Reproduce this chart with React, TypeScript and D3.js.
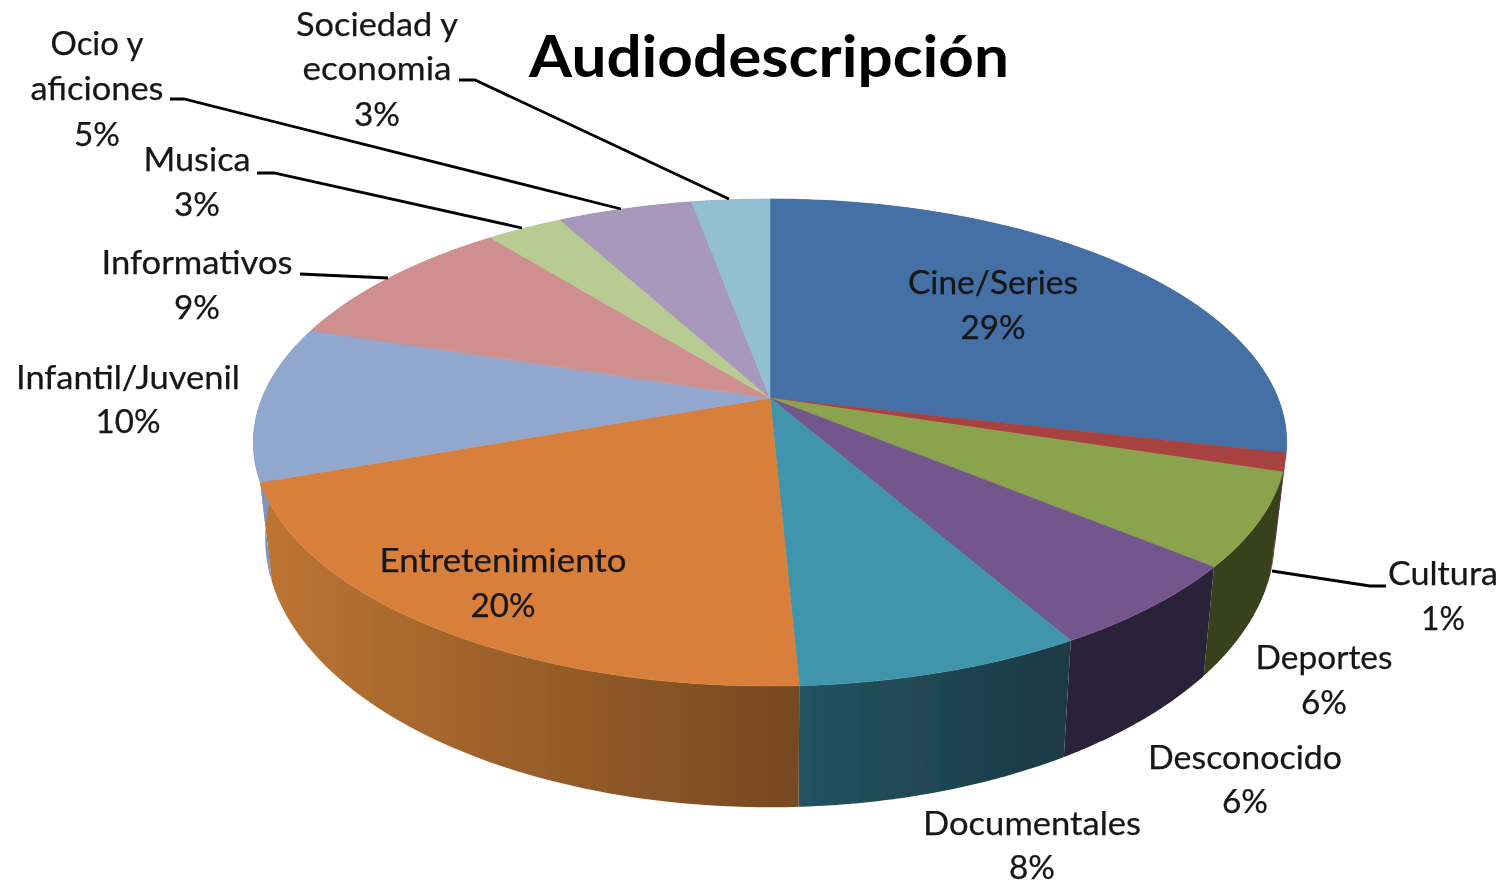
import React from "react";
import * as d3 from "d3";

const categories = ["Cine/Series","Cultura","Deportes","Desconocido","Documentales","Entretenimiento","Infantil/Juvenil","Informativos","Musica","Ocio y aficiones","Sociedad y economia"];
const shares = [28.6,1.2,6.15,5.75,7.55,20.3,10.35,9.27,2.88,5.03,2.92];
const percentLabels = ["29%","1%","6%","6%","8%","20%","10%","9%","3%","5%","3%"];
const topColors = ["#4470a5","#a84340","#89a44e","#73568c","#3f95ad","#d8803a","#92a7ce","#cf8f8e","#b8cb92","#a797bb","#92bfd2"];
const wallFrom = ["#35577f","#7d312f","#38411c","#2c2338","#255261","#bc7533","#7e94bd","#a06e6d","#8e9d70","#817491","#70939f"];
const wallTo = ["#35577f","#7d312f","#38411c","#2c2338","#1a3a44","#764820","#7e94bd","#a06e6d","#8e9d70","#817491","#70939f"];

type Lbl = { lines: string[]; x: number; y: number[]; w: number[] };
const labelLayout: Lbl[] = [
  { lines: ["Cine/Series"], x: 993, y: [294,339], w: [170,65] },
  { lines: ["Cultura"], x: 1443, y: [585,630], w: [110,44] },
  { lines: ["Deportes"], x: 1324, y: [669,714], w: [137,46] },
  { lines: ["Desconocido"], x: 1245, y: [769,813], w: [194,46] },
  { lines: ["Documentales"], x: 1032, y: [835,879], w: [218,46] },
  { lines: ["Entretenimiento"], x: 503, y: [572,617], w: [247,65] },
  { lines: ["Infantil/Juvenil"], x: 128, y: [389,433], w: [224,65] },
  { lines: ["Informativos"], x: 197, y: [274,319], w: [191,46] },
  { lines: ["Musica"], x: 197, y: [171,216], w: [107,46] },
  { lines: ["Ocio y","aficiones"], x: 97, y: [55,100,146], w: [93,133,46] },
  { lines: ["Sociedad y","economia"], x: 377, y: [36,80,126], w: [162,149,46] },
];
const leaders: [number, number][][] = [
  [[459,80],[475,80],[729,199]],
  [[170,99],[184,99],[621,209]],
  [[257,173],[274,173],[522,228]],
  [[300,274],[388,278]],
  [[1272,571],[1370,586],[1386,586]],
];

const W = 1507, H = 883;
const cx = 770, cy = 398;
const k = -0.1828, a = 508, b = 235.4;
const lowerX = 0.977, lowerY0 = 489, lowerYs = 1.105;

const top = (t: number): [number, number] => {
  const u = Math.sin(t), v = -Math.cos(t), w = 1 + k * v;
  return [cx + (a * u) / w, cy + (b * v) / w];
};
const low = (t: number): [number, number] => {
  const [x, y] = top(t);
  return [cx + (x - cx) * lowerX, lowerY0 + (y - cy) * lowerYs];
};

const arcs = d3.pie<number>().sort(null)(shares);
const line = d3.line();
const samples = (s: number, e: number) => d3.range(0, 61).map((i) => s + ((e - s) * i) / 60);

export default function App() {
  return (
    <svg width={W} height={H} style={{ position: "absolute", left: 0, top: 0, background: "#fff" }} fontFamily="Lato, 'Open Sans', sans-serif">
      <defs>
        <filter id="soft" x="-5%" y="-5%" width="110%" height="110%"><feGaussianBlur stdDeviation="0.55" /></filter>
        {categories.map((c, i) => (
          <linearGradient key={c} id={`wall${i}`} x1="0" x2="1" y1="0" y2="0">
            <stop offset="0" stopColor={wallFrom[i]} />
            <stop offset="1" stopColor={wallTo[i]} />
          </linearGradient>
        ))}
      </defs>
      <g filter="url(#soft)">
        {arcs.map((d, i) => {
          const ts = samples(d.startAngle, d.endAngle);
          const pts = [...ts.map(top), ...ts.slice().reverse().map(low)];
          return <path key={i} d={line(pts)! + "Z"} fill={`url(#wall${i})`} />;
        })}
        {arcs.map((d, i) => {
          const ts = samples(d.startAngle, d.endAngle);
          return <path key={i} d={line([[cx, cy], ...ts.map(top)])! + "Z"} fill={topColors[i]} stroke={topColors[i]} strokeWidth={0.6} />;
        })}
        {leaders.map((pts, i) => (
          <path key={i} d={line(pts)!} fill="none" stroke="#000" strokeWidth={2.8} />
        ))}
        <text x={769} y={77} textAnchor="middle" fontSize={58} fontWeight={700} fill="#000" textLength={480} lengthAdjust="spacingAndGlyphs">Audiodescripción</text>
        {labelLayout.map((l, i) => {
          const all = [...l.lines, percentLabels[i]];
          return all.map((t, j) => (
            <text key={`${i}-${j}`} x={l.x} y={l.y[j]} textAnchor="middle" fontSize={33} fill="#151515" stroke="#151515" strokeWidth={0.25} textLength={l.w[j]} lengthAdjust="spacingAndGlyphs">{t}</text>
          ));
        })}
      </g>
    </svg>
  );
}
